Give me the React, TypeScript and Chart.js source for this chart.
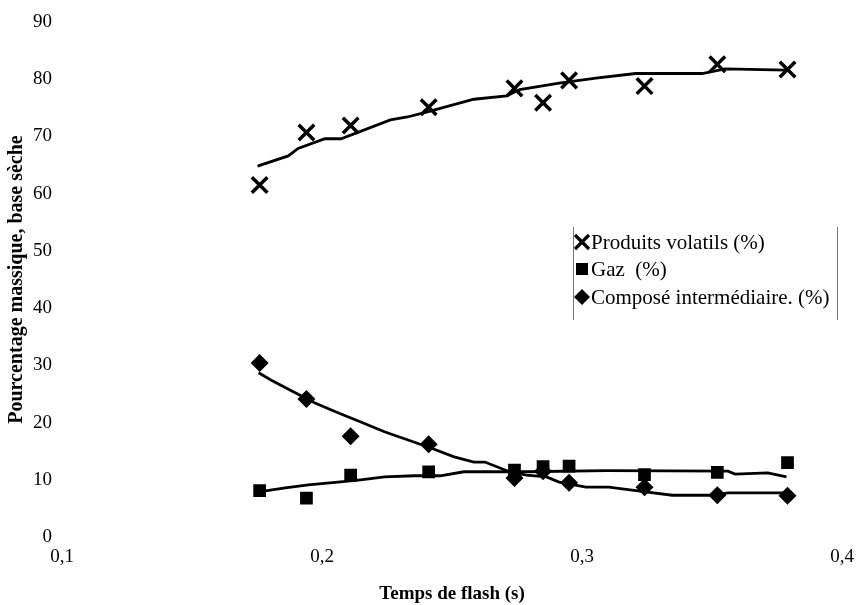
import React, { useEffect, useRef } from "react";
import { Chart, registerables } from "chart.js";

Chart.register(...registerables);

// Flash time (s) of each run
const flashTime = [0.176, 0.194, 0.211, 0.241, 0.274, 0.285, 0.295, 0.324, 0.352, 0.379];
// Measured values (% mass, dry basis)
const volatils = [61.5, 70.7, 71.9, 75.1, 78.4, 75.9, 79.8, 78.8, 82.6, 81.7];
const gaz = [8.1, 6.8, 10.8, 11.4, 11.7, 12.3, 12.4, 10.9, 11.3, 13.0];
const compose = [30.4, 24.1, 17.6, 16.2, 10.3, 11.5, 9.5, 8.7, 7.3, 7.2];

// Trend curves
const volFitX = [0.1752, 0.187, 0.1908, 0.2011, 0.2073, 0.2263, 0.2328, 0.2405, 0.2584, 0.271, 0.276, 0.2912, 0.3053, 0.3206, 0.3462, 0.355, 0.3786];
const volFitY = [64.8, 66.6, 67.9, 69.6, 69.6, 72.9, 73.4, 74.3, 76.5, 77.1, 78.2, 79.3, 80.2, 81.0, 81.0, 81.8, 81.6];
const gazFitX = [0.1756, 0.1859, 0.1947, 0.2061, 0.2149, 0.224, 0.2355, 0.2454, 0.2546, 0.2786, 0.3092, 0.3561, 0.3588, 0.3714, 0.3786];
const gazFitY = [7.9, 8.6, 9.1, 9.6, 10.0, 10.5, 10.7, 10.7, 11.4, 11.4, 11.6, 11.5, 11.0, 11.2, 10.5];
const compFitX = [0.1756, 0.1805, 0.1897, 0.1973, 0.2061, 0.2149, 0.224, 0.2328, 0.2416, 0.2508, 0.2584, 0.2626, 0.2721, 0.2786, 0.2863, 0.2912, 0.3015, 0.3103, 0.3244, 0.3347, 0.3511, 0.3561, 0.379];
const compFitY = [28.7, 27.4, 25.2, 23.4, 21.7, 20.1, 18.4, 17.0, 15.6, 14.0, 13.1, 13.1, 11.4, 10.8, 10.5, 9.6, 8.7, 8.7, 7.9, 7.3, 7.3, 7.7, 7.7];

// Axis ticks
const xTicks = [0.1, 0.2, 0.3, 0.4];
const yMin = 0;
const yMax = 90;
const yStep = 10;

const legendLabels = ["Produits volatils (%)", "Gaz  (%)", "Composé intermédiaire. (%)"];
const xTitle = "Temps de flash (s)";
const yTitle = "Pourcentage massique, base sèche";

const FONT = "'Liberation Serif', 'Times New Roman', Times, serif";

const pts = (xs: number[], ys: number[]) => xs.map((x, i) => ({ x, y: ys[i] }));

const legendPlugin = {
  id: "customLegend",
  afterDraw(chart: any) {
    const ctx = chart.ctx as CanvasRenderingContext2D;
    const left = 573;
    const right = 837;
    const top = 227;
    const bottom = 320;
    ctx.save();
    ctx.strokeStyle = "#777";
    ctx.lineWidth = 1;
    ctx.beginPath();
    ctx.moveTo(left + 0.5, top);
    ctx.lineTo(left + 0.5, bottom);
    ctx.moveTo(right + 0.5, top);
    ctx.lineTo(right + 0.5, bottom);
    ctx.stroke();

    const rows = [242, 269, 297];
    const mx = 582;
    ctx.fillStyle = "#000";
    ctx.strokeStyle = "#000";
    // cross
    ctx.lineWidth = 3.2;
    ctx.beginPath();
    ctx.moveTo(mx - 7, rows[0] - 7);
    ctx.lineTo(mx + 7, rows[0] + 7);
    ctx.moveTo(mx + 7, rows[0] - 7);
    ctx.lineTo(mx - 7, rows[0] + 7);
    ctx.stroke();
    // square
    ctx.fillRect(mx - 6, rows[1] - 6, 12, 12);
    // diamond
    ctx.beginPath();
    ctx.moveTo(mx, rows[2] - 8);
    ctx.lineTo(mx + 8, rows[2]);
    ctx.lineTo(mx, rows[2] + 8);
    ctx.lineTo(mx - 8, rows[2]);
    ctx.closePath();
    ctx.fill();

    ctx.font = `21px ${FONT}`;
    ctx.textBaseline = "middle";
    ctx.textAlign = "left";
    legendLabels.forEach((t, i) => ctx.fillText(t, 591, rows[i] + 1));
    ctx.restore();
  },
};

export default function App() {
  const ref = useRef<HTMLCanvasElement | null>(null);

  useEffect(() => {
    document.body.style.margin = "0";
    const canvas = ref.current;
    if (!canvas) return;
    const markerBase = {
      type: "scatter" as const,
      showLine: false,
      borderColor: "#000",
      backgroundColor: "#000",
    };
    const lineBase = {
      type: "line" as const,
      borderColor: "#000",
      backgroundColor: "#000",
      borderWidth: 2.8,
      pointRadius: 0,
      tension: 0,
      fill: false,
    };
    const chart = new Chart(canvas, {
      type: "scatter",
      data: {
        datasets: [
          { ...lineBase, label: "fitVol", data: pts(volFitX, volFitY) },
          { ...lineBase, label: "fitGaz", data: pts(gazFitX, gazFitY) },
          { ...lineBase, label: "fitComp", data: pts(compFitX, compFitY) },
          { ...markerBase, label: legendLabels[0], data: pts(flashTime, volatils), pointStyle: "crossRot", pointRadius: 11, borderWidth: 3.5 },
          { ...markerBase, label: legendLabels[1], data: pts(flashTime, gaz), pointStyle: "rect", pointRadius: 9, borderWidth: 0 },
          { ...markerBase, label: legendLabels[2], data: pts(flashTime, compose), pointStyle: "rectRot", pointRadius: 9, borderWidth: 0 },
        ] as any,
      },
      options: {
        animation: false,
        responsive: true,
        maintainAspectRatio: false,
        layout: { padding: { top: 22, right: 15, left: 0, bottom: 0 } },
        plugins: {
          legend: { display: false },
          tooltip: { enabled: false },
        },
        scales: {
          x: {
            type: "linear",
            min: xTicks[0],
            max: xTicks[xTicks.length - 1],
            afterBuildTicks: (scale: any) => {
              scale.ticks = xTicks.map((v) => ({ value: v }));
            },
            afterFit: (scale: any) => {
              scale.height = 68;
            },
            grid: { display: false, drawTicks: false },
            border: { display: false },
            ticks: {
              color: "#000",
              padding: 9,
              font: { family: FONT, size: 19 },
              maxRotation: 0,
              callback: (v: any) => Number(v).toFixed(1).replace(".", ","),
            },
            title: {
              display: true,
              text: xTitle,
              color: "#000",
              font: { family: FONT, size: 19, weight: "bold" },
              padding: { top: 6, bottom: 0 },
            },
          },
          y: {
            type: "linear",
            min: yMin,
            max: yMax,
            afterFit: (scale: any) => {
              scale.width = 62;
            },
            grid: { display: false, drawTicks: false },
            border: { display: false },
            ticks: {
              stepSize: yStep,
              color: "#000",
              padding: 10,
              font: { family: FONT, size: 19 },
            },
            title: {
              display: true,
              text: yTitle,
              color: "#000",
              font: { family: FONT, size: 20, weight: "bold" },
              padding: { top: 5, bottom: 0 },
            },
          },
        },
      },
      plugins: [legendPlugin],
    });
    return () => chart.destroy();
  }, []);

  return (
    <div style={{ width: 863, height: 605, position: "relative", background: "#fff" }}>
      <canvas ref={ref} />
    </div>
  );
}
